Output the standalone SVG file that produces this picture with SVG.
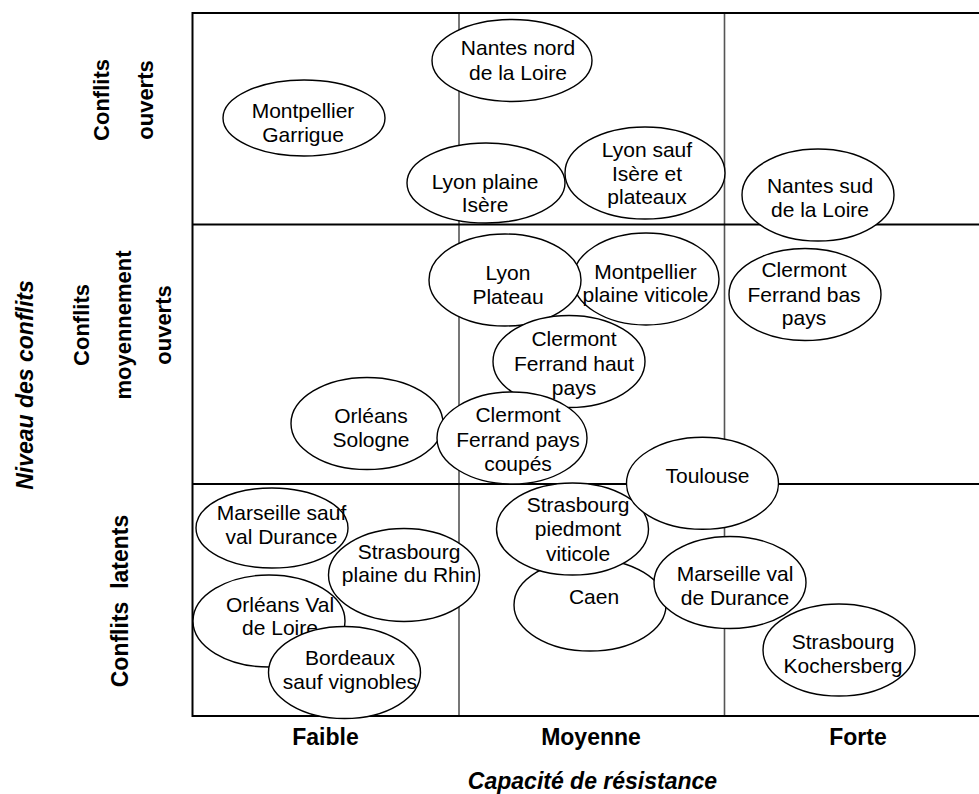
<svg xmlns="http://www.w3.org/2000/svg" width="979" height="794" viewBox="0 0 979 794">
<style>
.grid{stroke:#000;stroke-width:2;fill:none}
.vgrid{stroke:#555;stroke-width:1.6;fill:none}
.node ellipse{fill:#fff;stroke:#000;stroke-width:1.4}
.node text{font-family:"Liberation Sans",Arial,sans-serif;font-size:21px;fill:#000;text-anchor:middle}
.axis{font-family:"Liberation Sans",Arial,sans-serif;font-size:23px;font-weight:bold;fill:#000;text-anchor:middle}
.row{font-size:22px}
.title{font-style:italic}
</style>
<rect width="979" height="794" fill="#fff"/>
<g id="grid">
<line class="vgrid" x1="459" y1="13" x2="459" y2="716"/>
<line class="vgrid" x1="724.5" y1="13" x2="724.5" y2="716"/>
<line class="grid" x1="192.5" y1="224.5" x2="979" y2="224.5"/>
<line class="grid" x1="192.5" y1="484" x2="979" y2="484"/>
<polyline class="grid" points="979,13 192.5,13 192.5,716 979,716"/>
</g>
<g id="connectors"></g>
<g id="n-mg" class="node"><ellipse cx="304" cy="118" rx="81" ry="38"/><text><tspan x="303" y="118">Montpellier</tspan><tspan x="303" y="142">Garrigue</tspan></text></g>
<g id="n-nn" class="node"><ellipse cx="512" cy="60.5" rx="80" ry="41"/><text><tspan x="518" y="55">Nantes nord</tspan><tspan x="518" y="80">de la Loire</tspan></text></g>
<g id="n-lpi" class="node"><ellipse cx="486" cy="183" rx="79" ry="40"/><text><tspan x="485" y="189">Lyon plaine</tspan><tspan x="485" y="212">Isère</tspan></text></g>
<g id="n-lsi" class="node"><ellipse cx="645" cy="173" rx="80" ry="46"/><text><tspan x="647" y="157">Lyon sauf</tspan><tspan x="647" y="180.5">Isère et</tspan><tspan x="647" y="204">plateaux</tspan></text></g>
<g id="n-ns" class="node"><ellipse cx="818" cy="195" rx="76" ry="46"/><text><tspan x="820" y="193">Nantes sud</tspan><tspan x="820" y="217">de la Loire</tspan></text></g>
<g id="n-cbp" class="node"><ellipse cx="805" cy="294.5" rx="76" ry="46"/><text><tspan x="804" y="277">Clermont</tspan><tspan x="804" y="301.5">Ferrand bas</tspan><tspan x="804" y="325">pays</tspan></text></g>
<g id="n-mpv" class="node"><ellipse cx="646" cy="279" rx="73" ry="46"/><text><tspan x="645.5" y="278.5">Montpellier</tspan><tspan x="645.5" y="302">plaine viticole</tspan></text></g>
<g id="n-lp" class="node"><ellipse cx="505" cy="280" rx="76" ry="46"/><text><tspan x="508" y="279.5">Lyon</tspan><tspan x="508" y="303.5">Plateau</tspan></text></g>
<g id="n-chp" class="node"><ellipse cx="569" cy="361.5" rx="76" ry="46"/><text><tspan x="574" y="346">Clermont</tspan><tspan x="574" y="370.5">Ferrand haut</tspan><tspan x="574" y="394.5">pays</tspan></text></g>
<g id="n-os" class="node"><ellipse cx="367" cy="423.5" rx="76" ry="46"/><text><tspan x="371" y="423">Orléans</tspan><tspan x="371" y="447">Sologne</tspan></text></g>
<g id="n-cpc" class="node"><ellipse cx="512" cy="438" rx="75" ry="46"/><text><tspan x="518" y="422">Clermont</tspan><tspan x="518" y="446.5">Ferrand pays</tspan><tspan x="518" y="470.5">coupés</tspan></text></g>
<g id="n-caen" class="node"><ellipse cx="590" cy="605" rx="76" ry="46"/><text><tspan x="594" y="603.5">Caen</tspan></text></g>
<g id="n-spv" class="node"><ellipse cx="572.5" cy="529" rx="76" ry="46"/><text><tspan x="578" y="512">Strasbourg</tspan><tspan x="578" y="536">piedmont</tspan><tspan x="578" y="560.5">viticole</tspan></text></g>
<g id="n-tl" class="node"><ellipse cx="702.5" cy="483.3" rx="76" ry="46"/><text><tspan x="707.5" y="483">Toulouse</tspan></text></g>
<g id="n-mvd" class="node"><ellipse cx="730" cy="582.5" rx="76" ry="46"/><text><tspan x="735" y="581">Marseille val</tspan><tspan x="735" y="605">de Durance</tspan></text></g>
<g id="n-sk" class="node"><ellipse cx="839" cy="650" rx="76" ry="46"/><text><tspan x="843" y="648.5">Strasbourg</tspan><tspan x="843" y="673">Kochersberg</tspan></text></g>
<g id="n-msv" class="node"><ellipse cx="272" cy="528" rx="76" ry="40"/><text><tspan x="281.5" y="520">Marseille sauf</tspan><tspan x="281.5" y="544">val Durance</tspan></text></g>
<g id="n-ovl" class="node"><ellipse cx="269" cy="621" rx="76" ry="46"/><text><tspan x="280" y="611.5">Orléans Val</tspan><tspan x="280" y="635">de Loire</tspan></text></g>
<g id="n-spr" class="node"><ellipse cx="404" cy="575" rx="75.5" ry="46.5"/><text><tspan x="409" y="558.5">Strasbourg</tspan><tspan x="409" y="582">plaine du Rhin</tspan></text></g>
<g id="n-bsv" class="node"><ellipse cx="344.5" cy="672.5" rx="76" ry="46"/><text><tspan x="350" y="665">Bordeaux</tspan><tspan x="350" y="688.5">sauf vignobles</tspan></text></g>
<g id="axis-x">
<text class="axis" x="325.5" y="745">Faible</text>
<text class="axis" x="591" y="745">Moyenne</text>
<text class="axis" x="858" y="745">Forte</text>
<text class="axis title" x="592.5" y="789" font-size="24">Capacité de résistance</text>
</g>
<g id="axis-y">
<text class="axis title" transform="translate(33,385) rotate(-90)">Niveau des conflits</text>
<text class="axis row" transform="translate(109,100) rotate(-90)">Conflits</text>
<text class="axis row" transform="translate(153,100) rotate(-90)">ouverts</text>
<text class="axis row" transform="translate(89,325) rotate(-90)">Conflits</text>
<text class="axis row" transform="translate(131,325) rotate(-90)">moyennement</text>
<text class="axis row" transform="translate(171,325) rotate(-90)">ouverts</text>
<text class="axis" transform="translate(128,601) rotate(-90)" xml:space="preserve">Conflits  latents</text>
</g>
</svg>
